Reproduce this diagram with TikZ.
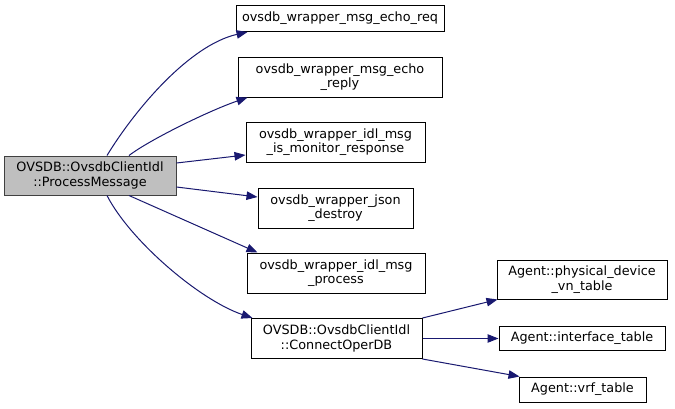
\documentclass[tikz,border=0pt]{standalone}
\usepackage{fontspec}
\setmainfont{DejaVu Sans}
\usetikzlibrary{arrows.meta}
\definecolor{edgeblue}{HTML}{191970}
\definecolor{mainfill}{HTML}{BFBFBF}
\definecolor{mainborder}{HTML}{404040}
\begin{document}
\begin{tikzpicture}[x=1pt,y=-1pt,
  fn/.style={draw=black,line width=1pt,fill=white,rectangle,inner sep=0pt,align=center,
    font=\fontsize{12.8}{14.6}\selectfont},
  mainfn/.style={fn,draw=mainborder,fill=mainfill},
  call/.style={draw=edgeblue,line width=1pt,-{Triangle[length=11pt,width=8.5pt]},fill=none}]
\useasboundingbox (0,0) rectangle (675,408);
\fill[white] (0,0) rectangle (675,408);

\node[mainfn,minimum width=172pt,minimum height=39pt] (main) at (90,175.5) {OVSDB::OvsdbClientIdl\\::ProcessMessage};
\node[fn,minimum width=208pt,minimum height=26pt] (ereq) at (340,18.5) {ovsdb\_wrapper\_msg\_echo\_req};
\node[fn,minimum width=204pt,minimum height=40pt] (erep) at (340,77) {ovsdb\_wrapper\_msg\_echo\\\_reply};
\node[fn,minimum width=179pt,minimum height=40pt] (mon) at (335.5,142) {ovsdb\_wrapper\_idl\_msg\\\_is\_monitor\_response};
\node[fn,minimum width=155pt,minimum height=40pt] (json) at (335.5,208) {ovsdb\_wrapper\_json\\\_destroy};
\node[fn,minimum width=178pt,minimum height=40pt] (proc) at (336,273) {ovsdb\_wrapper\_idl\_msg\\\_process};
\node[fn,minimum width=171pt,minimum height=40pt] (conn) at (336.5,338.5) {OVSDB::OvsdbClientIdl\\::ConnectOperDB};
\node[fn,minimum width=170pt,minimum height=39pt] (phys) at (582,279.5) {Agent::physical\_device\\\_vn\_table};
\node[fn,minimum width=166pt,minimum height=24pt] (iface) at (582,338.5) {Agent::interface\_table};
\node[fn,minimum width=127pt,minimum height=25pt] (vrf) at (582.5,389.5) {Agent::vrf\_table};

\draw[call] ([xshift=17pt]main.north) .. controls +(28,-46) and +(-58,13) .. ([xshift=12pt]ereq.south west);
\draw[call] ([xshift=39pt]main.north) .. controls +(21,-16) and +(-38,13) .. ([xshift=10pt]erep.south west);
\draw[call] ([yshift=12.5pt]main.east) -- ([yshift=-13pt]mon.west);
\draw[call] ([yshift=-11.5pt]main.east) -- ([yshift=11pt]json.west);
\draw[call] ([xshift=39pt]main.south) -- ([xshift=11pt]proc.north west);
\draw[call] ([xshift=17pt]main.south) .. controls +(23,45) and +(-53,-18) .. ([xshift=2pt]conn.north west);
\draw[call] (conn.north east) -- ([xshift=1pt]phys.south west);
\draw[call] (conn.east) -- (iface.west);
\draw[call] (conn.south east) -- ([xshift=1pt]vrf.north west);
\end{tikzpicture}
\end{document}
